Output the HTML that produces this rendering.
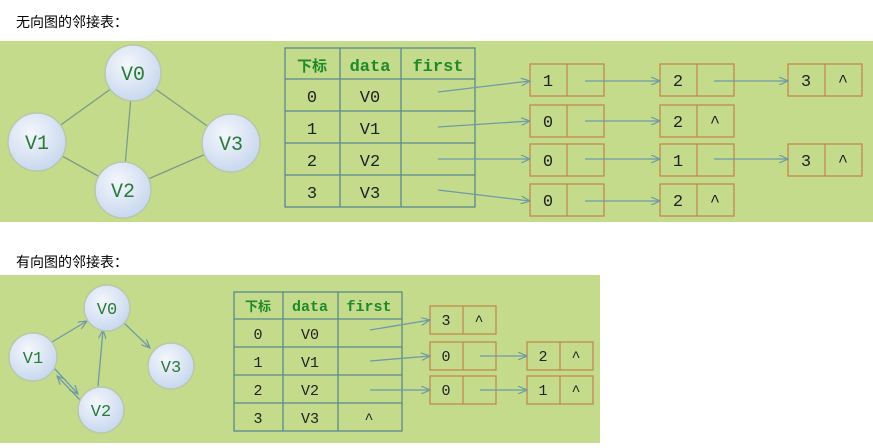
<!DOCTYPE html>
<html><head><meta charset="utf-8"><style>
body{margin:0;background:#fff;width:873px;height:443px;overflow:hidden}
svg text{font-family:"Liberation Mono","DejaVu Sans Mono",monospace}
</style></head><body>
<svg width="873" height="443" xmlns="http://www.w3.org/2000/svg">
<defs>
<radialGradient id="g" cx="0.4" cy="0.35" r="0.7"><stop offset="0" stop-color="#f4f7fc"/><stop offset="1" stop-color="#c6d6ee"/></radialGradient>
<marker id="a" markerWidth="10" markerHeight="8" refX="9" refY="4" orient="auto" markerUnits="userSpaceOnUse"><path d="M0,0 L9,4 L0,8" fill="none" stroke="#6f9aa6" stroke-width="1.2"/></marker>
</defs>
<text x="16" y="27" font-family="'Liberation Sans','Noto Sans CJK SC',sans-serif" font-size="14" style="font-family:'Liberation Sans','Noto Sans CJK SC',sans-serif">无向图的邻接表：</text>
<rect x="0" y="41" width="873" height="181" fill="#c4db8c"/>
<g stroke="#7d9c88" stroke-width="1.3">
<line x1="133" y1="73" x2="37" y2="142"/><line x1="133" y1="73" x2="231" y2="143"/><line x1="133" y1="73" x2="123" y2="190"/><line x1="37" y1="142" x2="123" y2="190"/><line x1="231" y1="143" x2="123" y2="190"/>
</g>
<g fill="url(#g)" stroke="#b8c8a8" stroke-width="1.5">
<circle cx="133" cy="73" r="28"/><circle cx="37" cy="142" r="29"/><circle cx="231" cy="143" r="29"/><circle cx="123" cy="190" r="28"/>
</g>
<g font-size="20" fill="#2a7a3a" text-anchor="middle">
<text x="133" y="80">V0</text><text x="37" y="149">V1</text><text x="231" y="150">V3</text><text x="123" y="197">V2</text>
</g>
<g stroke="#5a8a8a" stroke-width="1.3" fill="none">
<rect x="285" y="48" width="190" height="159"/>
<line x1="340" y1="48" x2="340" y2="207"/><line x1="401" y1="48" x2="401" y2="207"/>
<line x1="285" y1="79" x2="475" y2="79"/><line x1="285" y1="111" x2="475" y2="111"/><line x1="285" y1="143" x2="475" y2="143"/><line x1="285" y1="175" x2="475" y2="175"/>
</g>
<g font-size="17" font-weight="bold" fill="#1e8a2a" text-anchor="middle">
<text x="312" y="71" style="font-family:'Noto Sans CJK SC',sans-serif;font-size:15px">下标</text><text x="370" y="71">data</text><text x="438" y="71">first</text>
</g>
<g font-size="17" fill="#222" text-anchor="middle">
<text x="312" y="102">0</text><text x="370" y="102">V0</text>
<text x="312" y="134">1</text><text x="370" y="134">V1</text>
<text x="312" y="166">2</text><text x="370" y="166">V2</text>
<text x="312" y="198">3</text><text x="370" y="198">V3</text>
</g>
<g stroke="#c08a50" stroke-width="1.3" fill="none">
<rect x="530" y="64" width="74" height="32"/><line x1="567" y1="64" x2="567" y2="96"/>
<rect x="660" y="64" width="74" height="32"/><line x1="697" y1="64" x2="697" y2="96"/>
<rect x="788" y="64" width="74" height="32"/><line x1="825" y1="64" x2="825" y2="96"/>
<rect x="530" y="105" width="74" height="32"/><line x1="567" y1="105" x2="567" y2="137"/>
<rect x="660" y="105" width="74" height="32"/><line x1="697" y1="105" x2="697" y2="137"/>
<rect x="530" y="144" width="74" height="32"/><line x1="567" y1="144" x2="567" y2="176"/>
<rect x="660" y="144" width="74" height="32"/><line x1="697" y1="144" x2="697" y2="176"/>
<rect x="788" y="144" width="74" height="32"/><line x1="825" y1="144" x2="825" y2="176"/>
<rect x="530" y="184" width="74" height="32"/><line x1="567" y1="184" x2="567" y2="216"/>
<rect x="660" y="184" width="74" height="32"/><line x1="697" y1="184" x2="697" y2="216"/>
</g>
<g font-size="17" fill="#222" text-anchor="middle">
<text x="548" y="86">1</text><text x="678" y="86">2</text><text x="806" y="86">3</text><text x="843" y="86">^</text>
<text x="548" y="127">0</text><text x="678" y="127">2</text><text x="715" y="127">^</text>
<text x="548" y="166">0</text><text x="678" y="166">1</text><text x="806" y="166">3</text><text x="843" y="166">^</text>
<text x="548" y="206">0</text><text x="678" y="206">2</text><text x="715" y="206">^</text>
</g>
<g stroke="#6f9aa6" stroke-width="1.3" marker-end="url(#a)">
<line x1="438" y1="92" x2="530" y2="81"/><line x1="585" y1="81" x2="660" y2="81"/><line x1="714" y1="81" x2="788" y2="81"/>
<line x1="438" y1="127" x2="530" y2="121"/><line x1="585" y1="121" x2="660" y2="121"/>
<line x1="438" y1="159" x2="530" y2="159"/><line x1="585" y1="159" x2="660" y2="159"/><line x1="714" y1="159" x2="788" y2="159"/>
<line x1="438" y1="190" x2="530" y2="201"/><line x1="585" y1="201" x2="660" y2="201"/>
</g>

<text x="16" y="267" font-size="14" style="font-family:'Liberation Sans','Noto Sans CJK SC',sans-serif">有向图的邻接表：</text>
<rect x="0" y="275" width="600" height="168" fill="#c4db8c"/>
<g stroke="#6f9aa6" stroke-width="1.3" marker-end="url(#a)">
<line x1="52" y1="342" x2="87" y2="321"/>
<line x1="123" y1="322" x2="150" y2="348"/>
<line x1="54" y1="368" x2="78" y2="394"/>
<line x1="83" y1="403" x2="57" y2="376"/>
<line x1="98" y1="386" x2="103" y2="330"/>
</g>
<g fill="url(#g)" stroke="#b8c8a8" stroke-width="1.5">
<circle cx="107" cy="308" r="23"/><circle cx="33" cy="357" r="24"/><circle cx="171" cy="366" r="23"/><circle cx="101" cy="410" r="23"/>
</g>
<g font-size="17" fill="#2a7a3a" text-anchor="middle">
<text x="107" y="314">V0</text><text x="33" y="363">V1</text><text x="171" y="372">V3</text><text x="101" y="416">V2</text>
</g>
<g stroke="#5a8a8a" stroke-width="1.3" fill="none">
<rect x="234" y="292" width="168" height="139"/>
<line x1="283" y1="292" x2="283" y2="431"/><line x1="338" y1="292" x2="338" y2="431"/>
<line x1="234" y1="319" x2="402" y2="319"/><line x1="234" y1="347" x2="402" y2="347"/><line x1="234" y1="375" x2="402" y2="375"/><line x1="234" y1="403" x2="402" y2="403"/>
</g>
<g font-size="15" font-weight="bold" fill="#1e8a2a" text-anchor="middle">
<text x="258" y="311" style="font-family:'Noto Sans CJK SC',sans-serif;font-size:13px">下标</text><text x="310" y="311">data</text><text x="369" y="311">first</text>
</g>
<g font-size="15" fill="#222" text-anchor="middle">
<text x="258" y="339">0</text><text x="310" y="339">V0</text>
<text x="258" y="367">1</text><text x="310" y="367">V1</text>
<text x="258" y="395">2</text><text x="310" y="395">V2</text>
<text x="258" y="423">3</text><text x="310" y="423">V3</text><text x="369" y="423">^</text>
</g>
<g stroke="#c08a50" stroke-width="1.3" fill="none">
<rect x="430" y="306" width="66" height="28"/><line x1="463" y1="306" x2="463" y2="334"/>
<rect x="430" y="342" width="66" height="28"/><line x1="463" y1="342" x2="463" y2="370"/>
<rect x="527" y="342" width="66" height="28"/><line x1="560" y1="342" x2="560" y2="370"/>
<rect x="430" y="376" width="66" height="28"/><line x1="463" y1="376" x2="463" y2="404"/>
<rect x="527" y="376" width="66" height="28"/><line x1="560" y1="376" x2="560" y2="404"/>
</g>
<g font-size="15" fill="#222" text-anchor="middle">
<text x="446" y="325">3</text><text x="479" y="325">^</text>
<text x="446" y="361">0</text><text x="543" y="361">2</text><text x="576" y="361">^</text>
<text x="446" y="395">0</text><text x="543" y="395">1</text><text x="576" y="395">^</text>
</g>
<g stroke="#6f9aa6" stroke-width="1.3" marker-end="url(#a)">
<line x1="370" y1="330" x2="430" y2="320"/>
<line x1="370" y1="361" x2="430" y2="356"/><line x1="480" y1="356" x2="527" y2="356"/>
<line x1="370" y1="390" x2="430" y2="390"/><line x1="480" y1="390" x2="527" y2="390"/>
</g>
</svg>
</body></html>
